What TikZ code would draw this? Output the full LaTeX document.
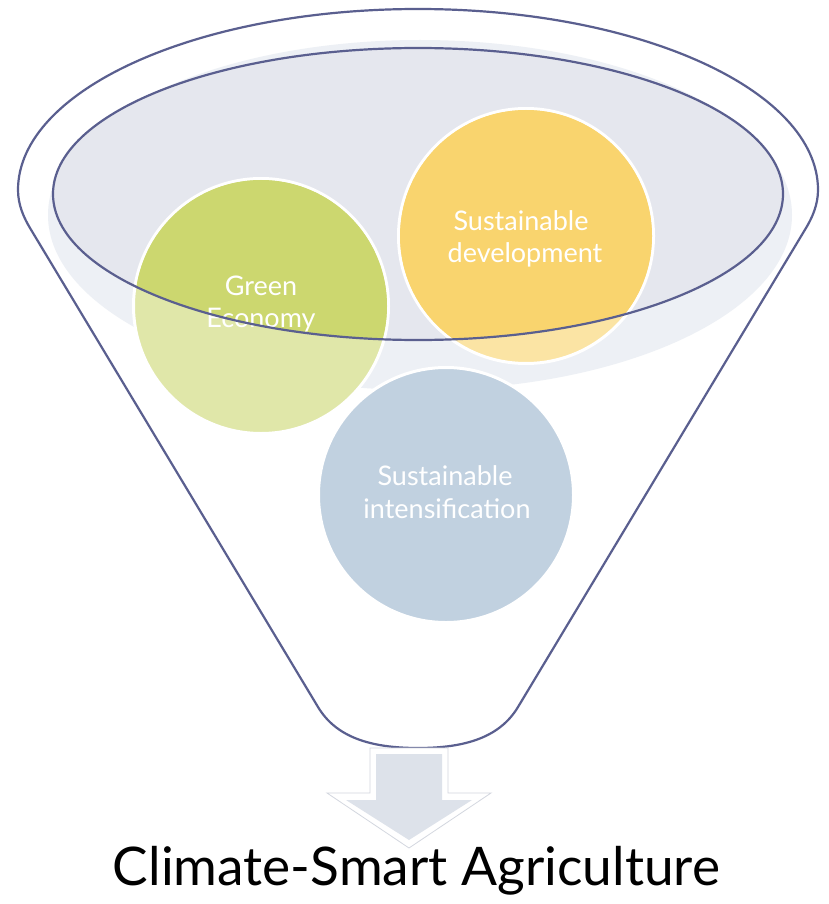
\documentclass[tikz,border=0pt]{standalone}
\usepackage{fontspec}
\usepackage{graphicx}
\setmainfont{Lato}
\definecolor{lineC}{HTML}{5A5F8F}
\definecolor{innerFill}{HTML}{E5E7EE}
\definecolor{paleFill}{HTML}{EDF0F5}
\definecolor{greenDark}{HTML}{CCD76F}
\definecolor{greenLight}{HTML}{E0E7A9}
\definecolor{yellowDark}{HTML}{F9D46E}
\definecolor{yellowLight}{HTML}{FBE4A4}
\definecolor{blueC}{HTML}{C1D1E0}
\definecolor{arrowFill}{HTML}{DDE2EA}
\definecolor{arrowEdge}{HTML}{D3D7DF}
\begin{document}
\begin{tikzpicture}[x=1pt,y=-1pt,
  funnelline/.style={draw=lineC, line width=2.2pt},
  bubble/.style={circle, minimum size=255pt, inner sep=0pt, draw=white, line width=3pt},
  bubbletext/.style={text=white, font=\fontsize{27}{32}\selectfont, anchor=base, inner sep=0pt}]
\fill[white] (0,0) rectangle (828,904);
\useasboundingbox (0,0) rectangle (828,904);
% shadow and inner rim of funnel mouth
\fill[paleFill] (420,215) ellipse [x radius=372pt, y radius=175pt];
\fill[innerFill] (418,194) ellipse [x radius=365pt, y radius=146pt];
% bubbles
\node[bubble, fill=greenLight] (green) at (261,306) {};
\node[bubble, fill=yellowLight] (yellow) at (526,236) {};
\node[bubble, fill=blueC] (blue) at (446,495) {};
\begin{scope}
\clip (418,194) ellipse [x radius=365pt, y radius=146pt];
\fill[greenDark] (green.center) circle[radius=126pt];
\fill[yellowDark] (yellow.center) circle[radius=126pt];
\end{scope}
% bubble texts
\node[bubbletext] (ge1) at (261,295) {Green};
\node[bubbletext] (ge2) at (261,327) {Economy};
\node[bubbletext] (sd1) at (521,230) {Sustainable};
\node[bubbletext] (sd2) at (525,262) {development};
\node[bubbletext] (si1) at (445,485) {Sustainable};
\node[bubbletext] (si2) at (447,518) {intensification};
% inner rim outline
\draw[funnelline] (418,194) ellipse [x radius=365pt, y radius=146pt];
% funnel outline
\draw[funnelline, line join=round] (18,190) arc[start angle=180, end angle=0, x radius=400pt, y radius=181pt]
  .. controls (818,205) and (812,218) .. (806,228)
  -- (518,707) .. controls (500,737) and (466,748) .. (418,748)
  .. controls (370,748) and (336,737) .. (318,707)
  -- (30,228) .. controls (24,218) and (18,205) .. (18,190) -- cycle;
% down arrow
\filldraw[fill=white, draw=arrowEdge, line width=0.8pt] (370,748) -- (448,748) -- (448,793) -- (491,793) -- (409,848) -- (327,793) -- (370,793) -- cycle;
\fill[arrowFill] (376,754) -- (442,754) -- (442,800) -- (472,800) -- (409,840) -- (346,800) -- (376,800) -- cycle;
% title
\node[anchor=base, inner sep=0pt] (title) at (416.5,885) {\resizebox{607pt}{!}{\fontsize{50}{60}\selectfont Climate-Smart Agriculture}};
\end{tikzpicture}
\end{document}
